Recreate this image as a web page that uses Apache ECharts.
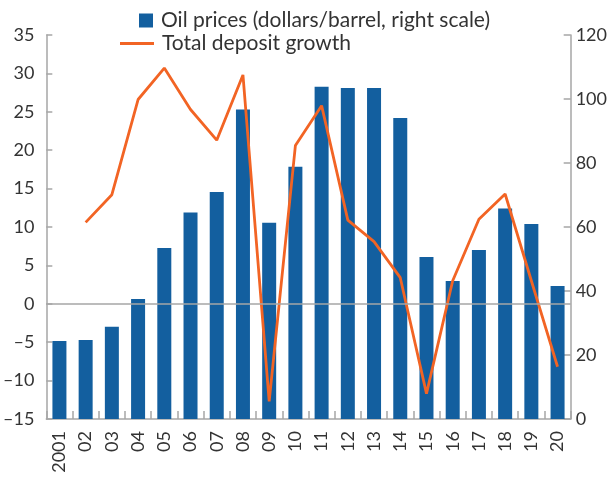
<!DOCTYPE html>
<html>
<head>
<meta charset="utf-8">
<script src="https://cdn.jsdelivr.net/npm/echarts@6/dist/echarts.min.js"></script>
<style>
  html, body { margin: 0; padding: 0; background: #fff; }
  #chart { width: 610px; height: 477px; }
</style>
</head>
<body>
<div id="chart"></div>
<script>
// Years on the category axis
const years = ['2001', '02', '03', '04', '05', '06', '07', '08', '09', '10',
               '11', '12', '13', '14', '15', '16', '17', '18', '19', '20'];

// Oil prices, dollars per barrel (right scale)
const oilPrices = [24.4, 24.7, 28.8, 37.5, 53.4, 64.5, 70.9, 96.7, 61.3, 78.8,
                   103.8, 103.4, 103.4, 94.1, 50.6, 43.1, 52.8, 65.8, 60.9, 41.6];

// Total deposit growth, percent (left scale)
const depositGrowth = [null, 10.6, 14.2, 26.6, 30.7, 25.3, 21.3, 29.8, -12.7, 20.6,
                       25.8, 10.9, 8.1, 3.4, -11.7, 3.0, 11.0, 14.3, 3.0, -8.2];

const leftTicks = { min: -15, max: 35, interval: 5 };
const rightTicks = { min: 0, max: 120, interval: 20 };

const FONT = 'Lato';
const TEXT = '#333333';
const AXIS = '#a6a6a6';
const BLUE = '#135f9f';
const ORANGE = '#f26424';

const chart = echarts.init(document.getElementById('chart'), null, { renderer: 'canvas' });

const dashMinus = v => String(v).replace('-', '\u2013');

chart.setOption({
  animation: false,
  textStyle: { fontFamily: FONT },
  grid: { left: 44, right: 39, top: 35, bottom: 58, containLabel: false },
  legend: [
    {
      data: [{ name: 'Oil prices (dollars/barrel, right scale)', icon: 'rect' }],
      left: 139, top: 10,
      itemWidth: 14, itemHeight: 14,
      padding: 0,
      textStyle: { fontFamily: FONT, fontSize: 21, color: TEXT, padding: [0, 0, 0, 3] }
    },
    {
      data: [{ name: 'Total deposit growth', icon: 'rect' }],
      left: 120, top: 33,
      itemWidth: 34, itemHeight: 3,
      padding: 0,
      textStyle: { fontFamily: FONT, fontSize: 21, color: TEXT, padding: [0, 0, 0, 3] }
    }
  ],
  xAxis: {
    type: 'category',
    data: years,
    boundaryGap: true,
    axisLine: { show: true, onZero: false, lineStyle: { color: AXIS, width: 1.5 } },
    axisTick: { show: true, inside: true, length: 8, alignWithLabel: false, lineStyle: { color: AXIS, width: 1.5 } },
    axisLabel: { rotate: 90, margin: 12, fontSize: 18, color: TEXT, fontFamily: FONT, interval: 0 },
    splitLine: { show: false }
  },
  yAxis: [
    {
      type: 'value',
      position: 'left',
      min: leftTicks.min, max: leftTicks.max, interval: leftTicks.interval,
      axisLine: { show: true, lineStyle: { color: AXIS, width: 1.5 } },
      axisTick: { show: true, inside: true, length: 6, lineStyle: { color: AXIS, width: 1.5 } },
      axisLabel: { margin: 12, fontSize: 18, color: TEXT, fontFamily: FONT, formatter: dashMinus },
      splitLine: { show: false }
    },
    {
      type: 'value',
      position: 'right',
      min: rightTicks.min, max: rightTicks.max, interval: rightTicks.interval,
      axisLine: { show: true, lineStyle: { color: AXIS, width: 1.5 } },
      axisTick: { show: true, inside: true, length: 7, lineStyle: { color: AXIS, width: 1.5 } },
      axisLabel: { margin: 5, fontSize: 18, color: TEXT, fontFamily: FONT },
      splitLine: { show: false }
    }
  ],
  series: [
    {
      name: 'Oil prices (dollars/barrel, right scale)',
      type: 'bar',
      yAxisIndex: 1,
      data: oilPrices,
      barWidth: 14,
      itemStyle: { color: BLUE }
    },
    {
      name: 'Total deposit growth',
      type: 'line',
      yAxisIndex: 0,
      data: depositGrowth,
      symbol: 'none',
      lineStyle: { color: ORANGE, width: 2.8 },
      itemStyle: { color: ORANGE },
      markLine: {
        silent: true,
        symbol: 'none',
        label: { show: false },
        lineStyle: { color: AXIS, width: 1.5, type: 'solid' },
        data: [{ yAxis: 0 }]
      }
    }
  ]
});
</script>
</body>
</html>
